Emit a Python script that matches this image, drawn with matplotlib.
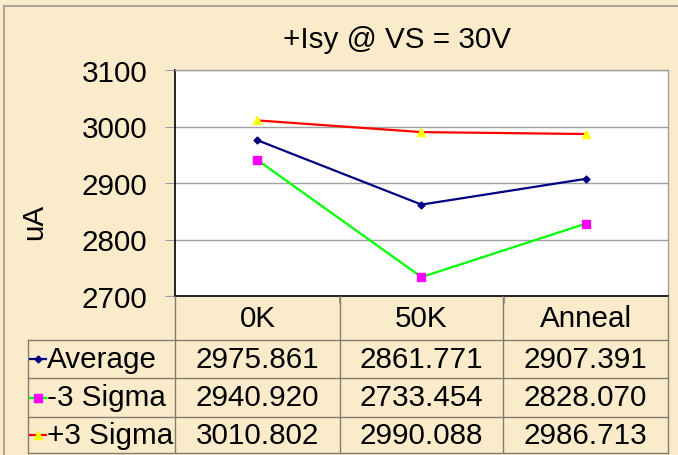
import matplotlib
matplotlib.use("Agg")
import matplotlib.pyplot as plt
from matplotlib.lines import Line2D

categories = ["0K", "50K", "Anneal"]
series_names = ["Average", "-3 Sigma", "+3 Sigma"]
average = [2975.861, 2861.771, 2907.391]
minus3 = [2940.920, 2733.454, 2828.070]
plus3 = [3010.802, 2990.088, 2986.713]
yticks = [2700, 2800, 2900, 3000, 3100]
title = "+Isy @ VS = 30V"
ylabel = "uA"

series = [average, minus3, plus3]
styles = [
    dict(color="#000080", marker="D", mfc="#000080", mec="#000080", ms=3.5),
    dict(color="#00FF00", marker="s", mfc="#FF00FF", mec="#FF00FF", ms=6),
    dict(color="#FF0000", marker="^", mfc="#FFFF00", mec="#FFFF00", ms=6),
]

W, H = 678, 456
BG = "#FAECCB"
GRID = "#A0A0A0"
TBL = "#857C6E"
FONT = "Liberation Sans"
FS = 21.3

plt.rcParams["font.family"] = [FONT, "DejaVu Sans"]

fig = plt.figure(figsize=(W / 100, H / 100), dpi=100)
fig.patch.set_facecolor(BG)


def fx(px):
    return px / W


def fy(py):
    return 1 - py / H


# plot area
L, R, T, B = 175, 668, 71, 297
ax = fig.add_axes([fx(L), fy(B), fx(R - L), (B - T) / H])
ax.set_facecolor("white")
xs = list(range(len(categories)))
for vals, st in zip(series, styles):
    ax.plot(xs, vals, lw=1.6, zorder=3, **st)
ax.set_xlim(-0.5, len(categories) - 0.5)
ax.set_ylim(yticks[0], yticks[-1])
ax.set_yticks(yticks)
ax.set_yticklabels([str(v) for v in yticks], fontsize=FS)
ax.yaxis.grid(True, color=GRID, lw=1)
ax.set_axisbelow(True)
ax.tick_params(axis="y", length=7, color=GRID, pad=13)
ax.set_xticks([0.5, 1.5])
ax.set_xticklabels([])
ax.tick_params(axis="x", length=5, color=GRID)
for s in ["left", "bottom"]:
    ax.spines[s].set_color("black")
    ax.spines[s].set_linewidth(1.2)
for s in ["top", "right"]:
    ax.spines[s].set_color(GRID)
    ax.spines[s].set_linewidth(1)

fig.text(fx(397), fy(40), title, fontsize=FS, ha="center", va="center")
fig.text(fx(34), fy(222), ylabel, fontsize=FS, ha="center", va="center", rotation=90)

# data table
col_edges = [L, 340, 503, R]
row_edges = [B, 341, 379, 418, 454]
tleft = 28


def hline(x0, x1, y):
    fig.add_artist(Line2D([fx(x0), fx(x1)], [fy(y), fy(y)], transform=fig.transFigure,
                          color=TBL, lw=1))


def vline(x, y0, y1):
    fig.add_artist(Line2D([fx(x), fx(x)], [fy(y0), fy(y1)], transform=fig.transFigure,
                          color=TBL, lw=1))


for y in row_edges[1:]:
    hline(tleft, R, y)
for x in col_edges:
    vline(x, B, row_edges[-1])
vline(tleft, row_edges[1], row_edges[-1])

for i, c in enumerate(categories):
    cx = (col_edges[i] + col_edges[i + 1]) / 2
    cy = (row_edges[0] + row_edges[1]) / 2
    fig.text(fx(cx), fy(cy), c, fontsize=FS, ha="center", va="center")

for r, (name, vals, st) in enumerate(zip(series_names, series, styles)):
    cy = (row_edges[r + 1] + row_edges[r + 2]) / 2
    fig.add_artist(Line2D([fx(30), fx(46)], [fy(cy), fy(cy)], transform=fig.transFigure,
                          color=st["color"], lw=1.6))
    fig.add_artist(Line2D([fx(38)], [fy(cy)], transform=fig.transFigure, ls="none",
                          marker=st["marker"], mfc=st["mfc"], mec=st["mec"], ms=st["ms"]))
    fig.text(fx(47), fy(cy), name, fontsize=FS, ha="left", va="center")
    for i, v in enumerate(vals):
        cx = (col_edges[i] + col_edges[i + 1]) / 2
        fig.text(fx(cx), fy(cy), f"{v:.3f}", fontsize=FS, ha="center", va="center")

# outer frame (top and left)
fig.add_artist(Line2D([fx(4), 1], [fy(7), fy(7)], transform=fig.transFigure, color="#A09888", lw=1.2))
fig.add_artist(Line2D([fx(4), fx(4)], [fy(7), 0], transform=fig.transFigure, color="#A09888", lw=1.2))

fig.savefig("out.png", dpi=100, facecolor=BG)
